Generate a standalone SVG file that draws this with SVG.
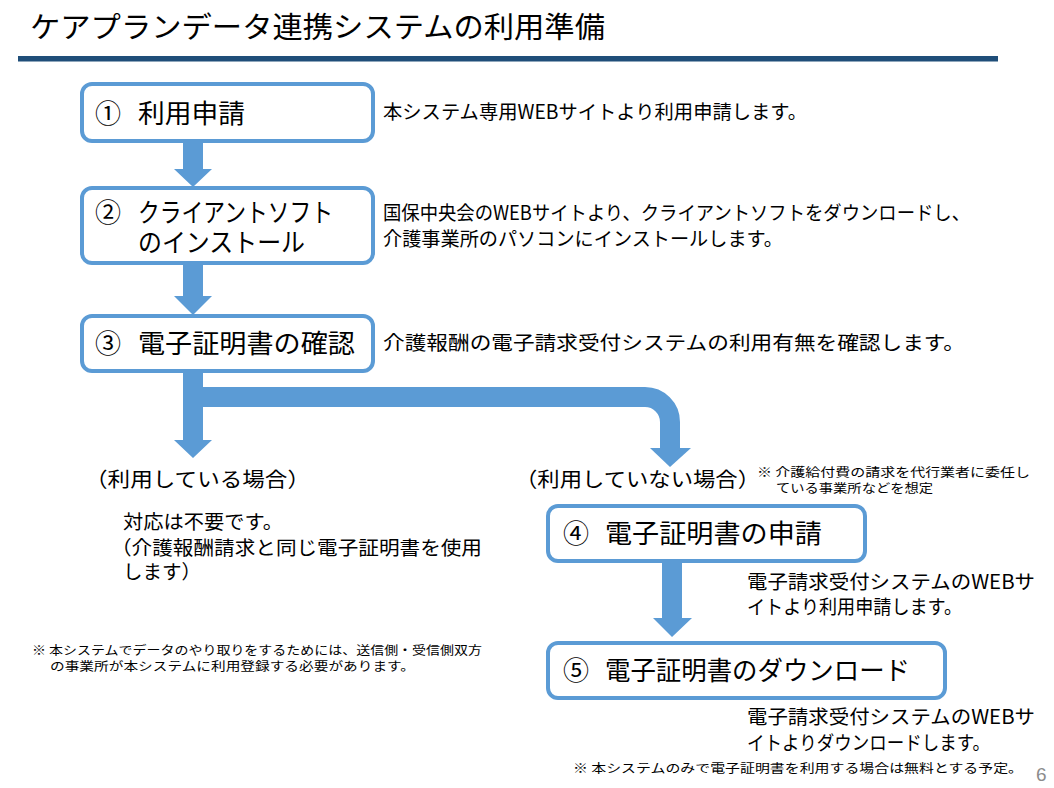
<svg xmlns="http://www.w3.org/2000/svg" width="1054" height="788" viewBox="0 0 1054 788">
<style>
text{font-family:"Noto Sans CJK JP","Noto Sans",sans-serif;fill:#000;}
.title{font-size:29px;}
.box{fill:#fff;stroke:#5B9BD5;stroke-width:4;}
.lbl{font-size:26px;}
.desc{font-size:19.5px;}
.case{font-size:20.5px;}
.note{font-size:12px;}
.arrow{fill:#5B9BD5;stroke:none;}
.band{fill:none;stroke:#5B9BD5;stroke-width:20;}
.pg{font-family:"Liberation Sans",Arial,sans-serif;font-size:19px;fill:#8c8c8c;}
</style>
<rect width="1054" height="788" fill="#fff"/>
<g id="title">
<text class="title" x="30" y="38" textLength="575" lengthAdjust="spacingAndGlyphs">ケアプランデータ連携システムの利用準備</text>
<rect x="18" y="56" width="980" height="5.5" fill="#1F4E79"/>
</g>
<g id="connectors">
<polygon class="arrow" points="183,142 203,142 203,169 212,169 193,187 174,169 183,169"/>
<polygon class="arrow" points="183,264 203,264 203,296 212,296 193,315 174,296 183,296"/>
<polygon class="arrow" points="183,371 203,371 203,440 212,440 193,458 174,440 183,440"/>
<path class="band" d="M190 397 H645 A25 25 0 0 1 670 422 V449"/>
<polygon class="arrow" points="650,448 691,448 670,467"/>
<polygon class="arrow" points="662,562 682,562 682,618 692,618 672,637 653,618 662,618"/>
</g>
<g id="step1">
<rect class="box" x="82" y="84" width="291" height="57" rx="10"/>
<text class="lbl" x="95" y="123">① <tspan x="138" textLength="107" lengthAdjust="spacingAndGlyphs">利用申請</tspan></text>
<text class="desc" x="383" y="119" textLength="424" lengthAdjust="spacingAndGlyphs">本システム専用WEBサイトより利用申請します。</text>
</g>
<g id="step2">
<rect class="box" x="82" y="188" width="291" height="75" rx="10"/>
<text class="lbl" x="95" y="222">② <tspan x="138" textLength="195" lengthAdjust="spacingAndGlyphs">クライアントソフト</tspan></text>
<text class="lbl" x="138" y="252" textLength="167" lengthAdjust="spacingAndGlyphs">のインストール</text>
<text class="desc" x="383" y="220" textLength="587" lengthAdjust="spacingAndGlyphs">国保中央会のWEBサイトより、クライアントソフトをダウンロードし、</text>
<text class="desc" x="383" y="246" textLength="400" lengthAdjust="spacingAndGlyphs">介護事業所のパソコンにインストールします。</text>
</g>
<g id="step3">
<rect class="box" x="82" y="316" width="291" height="55" rx="10"/>
<text class="lbl" x="95" y="353">③ <tspan x="138" textLength="217" lengthAdjust="spacingAndGlyphs">電子証明書の確認</tspan></text>
<text class="desc" x="383" y="350" textLength="582" lengthAdjust="spacingAndGlyphs">介護報酬の電子請求受付システムの利用有無を確認します。</text>
</g>
<g id="case-using">
<text class="case" x="85" y="487" textLength="225" lengthAdjust="spacingAndGlyphs">（利用している場合）</text>
<text class="desc" x="123" y="529" textLength="160" lengthAdjust="spacingAndGlyphs">対応は不要です。</text>
<text class="desc" x="111" y="555" textLength="371" lengthAdjust="spacingAndGlyphs">（介護報酬請求と同じ電子証明書を使用</text>
<text class="desc" x="123" y="579" textLength="78" lengthAdjust="spacingAndGlyphs">します）</text>
</g>
<g id="case-not-using">
<text class="case" x="515" y="487" textLength="245" lengthAdjust="spacingAndGlyphs">（利用していない場合）</text>
<text class="note" x="757" y="477" textLength="273" lengthAdjust="spacingAndGlyphs">※ 介護給付費の請求を代行業者に委任し</text>
<text class="note" x="776" y="493" textLength="157" lengthAdjust="spacingAndGlyphs">ている事業所などを想定</text>
</g>
<g id="step4">
<rect class="box" x="548" y="506" width="317" height="55" rx="10"/>
<text class="lbl" x="563" y="543">④ <tspan x="605" textLength="217" lengthAdjust="spacingAndGlyphs">電子証明書の申請</tspan></text>
<text class="desc" x="747" y="589" textLength="288" lengthAdjust="spacingAndGlyphs">電子請求受付システムのWEBサ</text>
<text class="desc" x="747" y="614" textLength="215" lengthAdjust="spacingAndGlyphs">イトより利用申請します。</text>
</g>
<g id="step5">
<rect class="box" x="548" y="643" width="397" height="55" rx="10"/>
<text class="lbl" x="563" y="680">⑤ <tspan x="605" textLength="305" lengthAdjust="spacingAndGlyphs">電子証明書のダウンロード</tspan></text>
<text class="desc" x="747" y="724" textLength="288" lengthAdjust="spacingAndGlyphs">電子請求受付システムのWEBサ</text>
<text class="desc" x="747" y="750" textLength="243" lengthAdjust="spacingAndGlyphs">イトよりダウンロードします。</text>
</g>
<g id="footnotes">
<text class="note" x="32" y="655" textLength="450" lengthAdjust="spacingAndGlyphs">※ 本システムでデータのやり取りをするためには、送信側・受信側双方</text>
<text class="note" x="50" y="671" textLength="365" lengthAdjust="spacingAndGlyphs">の事業所が本システムに利用登録する必要があります。</text>
<text class="note" x="573" y="773" textLength="450" lengthAdjust="spacingAndGlyphs">※ 本システムのみで電子証明書を利用する場合は無料とする予定。</text>
<text class="pg" x="1036" y="781">6</text>
</g>
</svg>
